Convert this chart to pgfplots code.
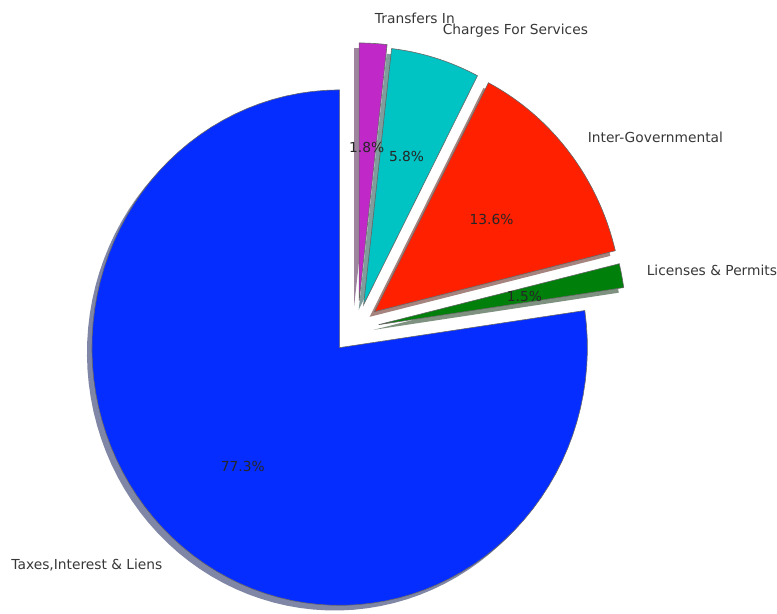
\documentclass[border=0pt]{standalone}
\usepackage{pgfplots}
\pgfplotsset{compat=1.18}
\usepackage{fontspec}
\setmainfont{DejaVu Sans}
\definecolor{cB}{RGB}{5,45,255}
\definecolor{cG}{RGB}{0,128,10}
\definecolor{cR}{RGB}{255,32,0}
\definecolor{cC}{RGB}{0,195,195}
\definecolor{cM}{RGB}{192,40,200}
\definecolor{lab}{RGB}{55,55,55}
% shares in percent
\def\pB{77.3}\def\pG{1.5}\def\pR{13.6}\def\pC{5.8}\def\pM{1.8}
\pgfmathsetmacro\aA{90}
\pgfmathsetmacro\aB{\aA+3.6*\pB}
\pgfmathsetmacro\aC{\aB+3.6*\pG}
\pgfmathsetmacro\aD{\aC+3.6*\pR}
\pgfmathsetmacro\aE{\aD+3.6*\pC}
\pgfmathsetmacro\aF{\aE+3.6*\pM}
% wedge: start, end, dx, dy, (unused), options
\newcommand{\wedgeplot}[6]{%
  \addplot[#6, domain=#1:#2, samples=90, variable=\t]
    ({#3+cos(\t)},{#4+sin(\t)}) -- (axis cs:#3,#4) -- cycle;}
\begin{document}
\begin{tikzpicture}
\begin{axis}[
  width=388.5pt, height=307pt, scale only axis,
  xmin=-1.3710, xmax=1.7621, ymin=-1.0310, ymax=1.3488,
  hide axis, clip=false,
  font=\fontsize{6.9}{8}\selectfont,
]
\path (rel axis cs:0,0) rectangle (rel axis cs:1,1);
% shadows
\wedgeplot{\aA}{\aB}{-0.02}{-0.02}{}{draw=none, fill=cB!30!black, fill opacity=0.5}
\wedgeplot{\aB}{\aC}{0.137}{0.069}{}{draw=none, fill=cG!30!black, fill opacity=0.5}
\wedgeplot{\aC}{\aD}{0.121}{0.1195}{}{draw=none, fill=cR!30!black, fill opacity=0.5}
\wedgeplot{\aD}{\aE}{0.0768}{0.1467}{}{draw=none, fill=cC!30!black, fill opacity=0.5}
\wedgeplot{\aE}{\aF}{0.0586}{0.162}{}{draw=none, fill=cM!30!black, fill opacity=0.5}
% wedges
\wedgeplot{\aA}{\aB}{0}{0}{}{fill=cB, draw=black!60, line width=0.3pt}
\wedgeplot{\aB}{\aC}{0.157}{0.089}{}{fill=cG, draw=black!60, line width=0.3pt}
\wedgeplot{\aC}{\aD}{0.141}{0.1395}{}{fill=cR, draw=black!60, line width=0.3pt}
\wedgeplot{\aD}{\aE}{0.0968}{0.1667}{}{fill=cC, draw=black!60, line width=0.3pt}
\wedgeplot{\aE}{\aF}{0.0786}{0.182}{}{fill=cM, draw=black!60, line width=0.3pt}
% labels
\node[anchor=west, inner sep=0pt, text=lab] at (axis cs:0.141,1.279) {Transfers In};
\node[anchor=west, inner sep=0pt, text=lab] at (axis cs:0.415,1.229) {Charges For Services};
\node[anchor=west, inner sep=0pt, text=lab] at (axis cs:1.0,0.814) {Inter-Governmental};
\node[anchor=west, inner sep=0pt, text=lab] at (axis cs:1.238,0.298) {Licenses \& Permits};
\node[anchor=east, inner sep=0pt, text=lab] at (axis cs:-0.714,-0.845) {Taxes,Interest \& Liens};
% percentages
\node[text=black!85] at (axis cs:0.109,0.775) {1.8\%};
\node[text=black!85] at (axis cs:0.270,0.740) {5.8\%};
\node[text=black!85] at (axis cs:0.613,0.496) {13.6\%};
\node[text=black!85] at (axis cs:0.746,0.198) {1.5\%};
\node[text=black!85] at (axis cs:-0.391,-0.461) {77.3\%};
\end{axis}
\end{tikzpicture}
\end{document}
